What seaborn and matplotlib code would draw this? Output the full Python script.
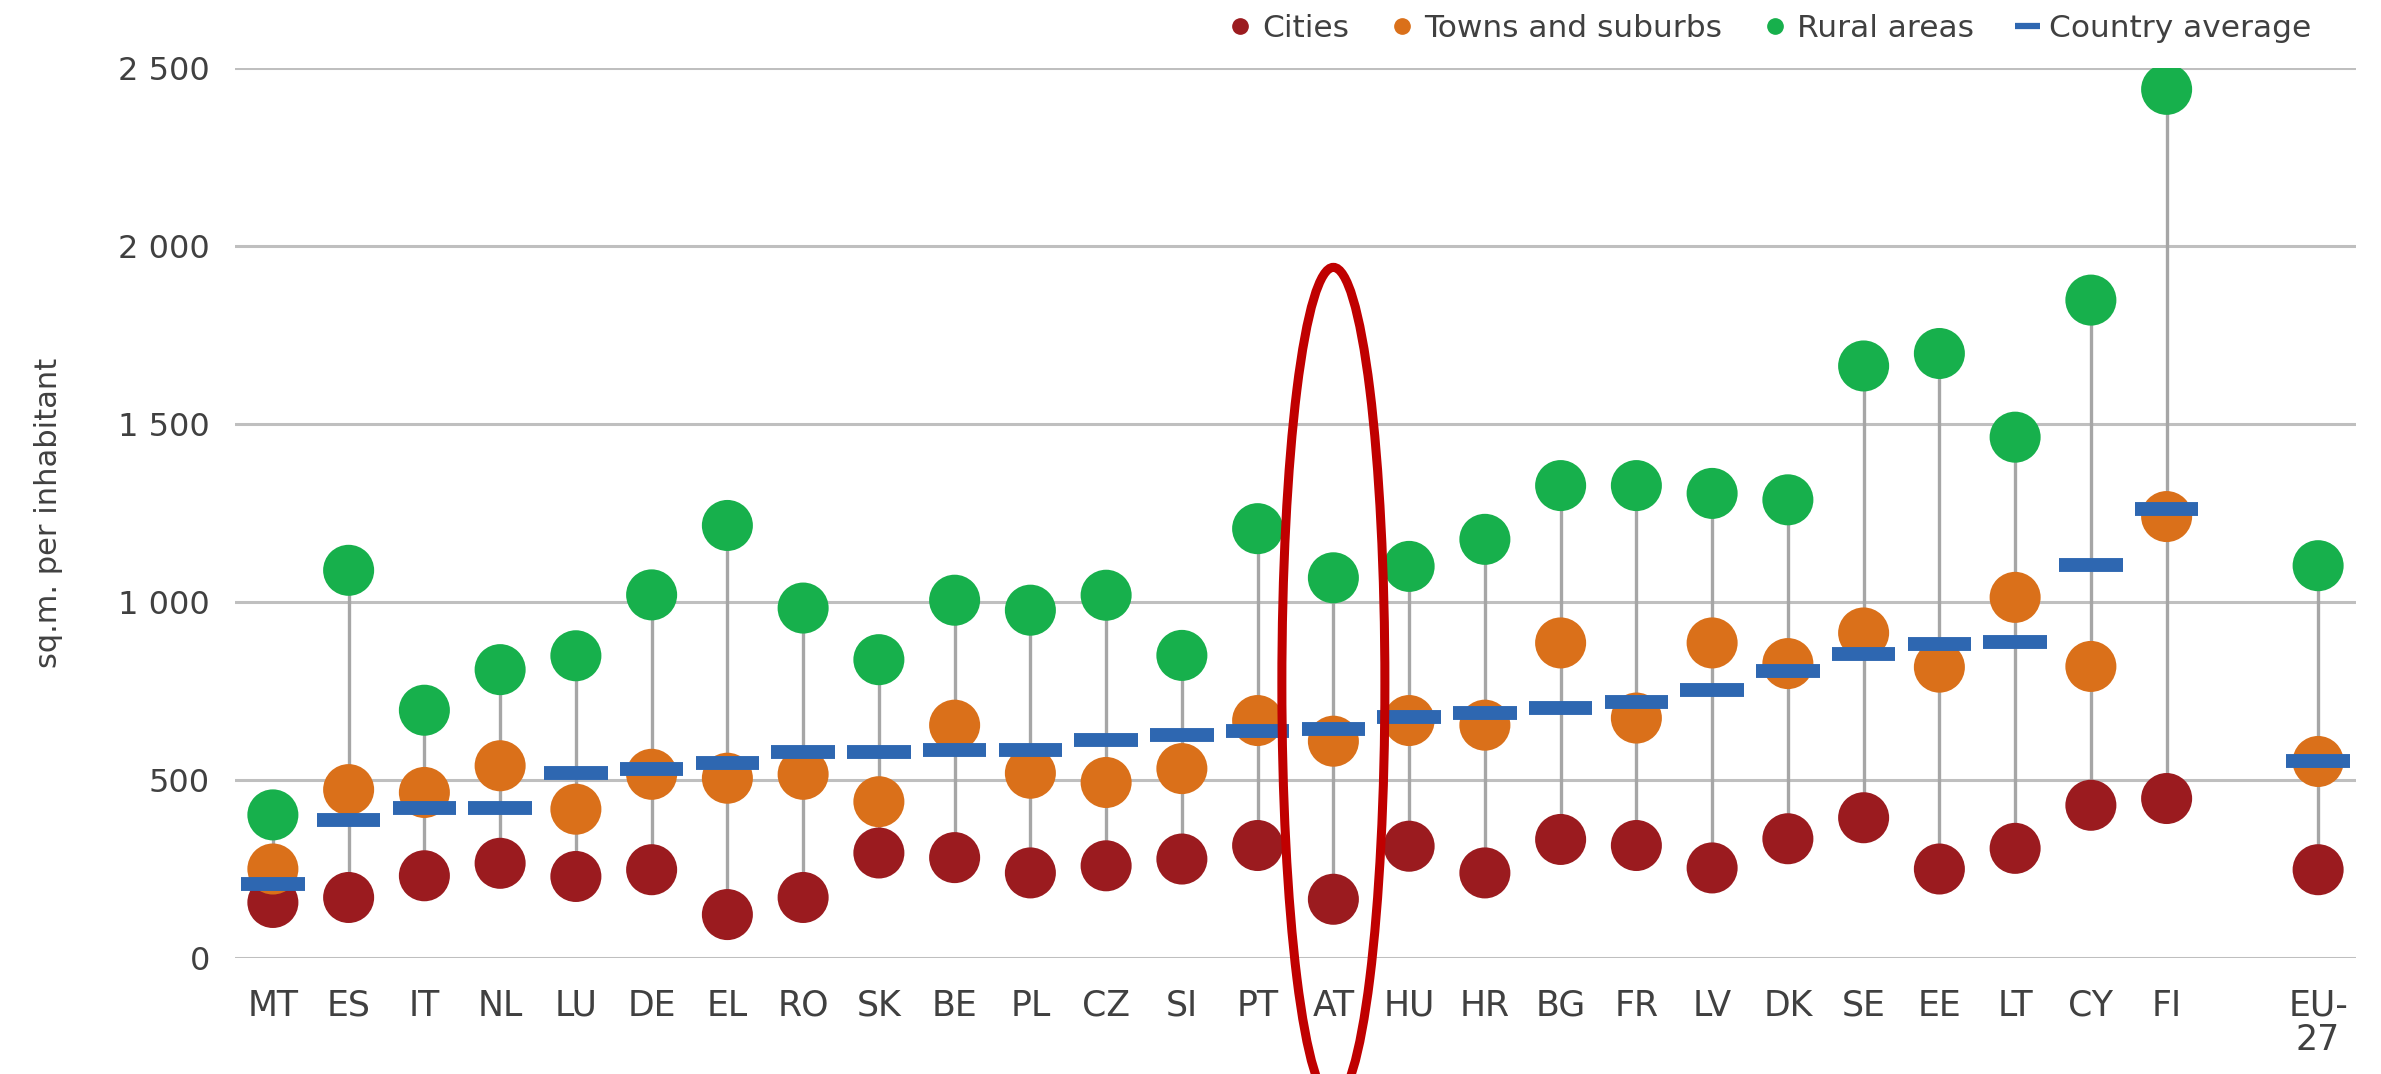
import numpy as np
import pandas as pd
import seaborn as sns
import matplotlib.pyplot as plt
from matplotlib.lines import Line2D
from matplotlib.patches import Ellipse
from matplotlib.ticker import FuncFormatter

countries = ["MT", "ES", "IT", "NL", "LU", "DE", "EL", "RO", "SK", "BE", "PL", "CZ", "SI",
             "PT", "AT", "HU", "HR", "BG", "FR", "LV", "DK", "SE", "EE", "LT", "CY", "FI", "EU-\n27"]
cities = [156, 170, 231, 266, 229, 248, 122, 170, 295, 282, 239, 259, 278,
          316, 165, 314, 239, 333, 316, 253, 335, 394, 250, 308, 429, 448, 248]
towns = [250, 473, 465, 540, 418, 516, 505, 516, 439, 654, 519, 493, 532,
         667, 609, 667, 654, 885, 674, 885, 827, 913, 817, 1013, 819, 1240, 552]
rural = [402, 1089, 696, 810, 849, 1020, 1215, 983, 838, 1005, 977, 1019, 850,
         1206, 1068, 1100, 1176, 1327, 1327, 1305, 1287, 1663, 1698, 1463, 1848, 2440, 1102]
average = [207, 388, 421, 421, 519, 532, 548, 578, 578, 584, 584, 612, 627,
           639, 643, 676, 688, 701, 720, 753, 806, 854, 883, 888, 1104, 1260, 552]

# EU-27 sits after a one-slot gap
pos = list(range(26)) + [27]

colors = {"Cities": "#9B1B1F", "Towns and suburbs": "#DA701A", "Rural areas": "#17B04C"}
avg_color = "#2E67B1"
text_color = "#404040"

df = pd.DataFrame({"country": countries, "pos": pos, "Cities": cities,
                   "Towns and suburbs": towns, "Rural areas": rural, "avg": average})
long = df.melt(id_vars=["country", "pos"], value_vars=list(colors),
               var_name="area", value_name="value")

sns.set_theme(style="white")
plt.rcParams["font.family"] = ["DejaVu Sans"]
plt.rcParams["text.color"] = text_color

fig = plt.figure(figsize=(23.81, 10.74), dpi=100)
ax = fig.add_axes([0.0987, 0.108, 0.8908, 0.8287])

for y in range(0, 2501, 500):
    ax.axhline(y, color="#BFBFBF", lw=2.2, zorder=0)

lo = df[list(colors)].min(axis=1)
hi = df[list(colors)].max(axis=1)
ax.vlines(df["pos"], lo, hi, color="#A6A6A6", lw=2.4, zorder=1)

sns.scatterplot(data=long, x="pos", y="value", hue="area", palette=colors,
                s=1350, linewidth=0, legend=False, ax=ax, zorder=2)

ax.hlines(df["avg"], df["pos"] - 0.42, df["pos"] + 0.42, color=avg_color, lw=10, zorder=3)

# highlight around AT, running off the bottom of the figure
ax.add_patch(Ellipse((14, 770), 1.36, 2340, fill=False, edgecolor="#C00000",
                     lw=6.5, zorder=5, clip_on=False))

ax.set_xlim(-0.5, 27.5)
ax.set_ylim(0, 2500)
ax.set_xticks(pos)
ax.set_xticklabels(countries, fontsize=25, color=text_color, linespacing=1.0)
ax.set_yticks(range(0, 2501, 500))
ax.yaxis.set_major_formatter(FuncFormatter(lambda v, p: f"{int(v):,}".replace(",", " ")))
for lab in ax.get_yticklabels():
    lab.set_fontsize(23)
    lab.set_color(text_color)
ax.tick_params(axis="x", length=0, pad=22)
ax.tick_params(axis="y", length=0, pad=18)
ax.set_xlabel("")
ax.set_ylabel("sq.m. per inhabitant", fontsize=22, color=text_color, labelpad=40)
sns.despine(ax=ax, left=True, bottom=True)

handles = [Line2D([], [], marker="o", ls="", color=c, markersize=11) for c in colors.values()]
handles.append(Line2D([], [], color=avg_color, lw=4.5, solid_capstyle="butt"))
labels = list(colors) + ["Country average"]
fig.legend(handles, labels, loc="upper right", bbox_to_anchor=(0.976, 0.999), ncol=4,
           frameon=False, fontsize=22.5, handlelength=0.8, handletextpad=0.3,
           columnspacing=1.3, borderaxespad=0)

fig.savefig("out.png", dpi=100)
